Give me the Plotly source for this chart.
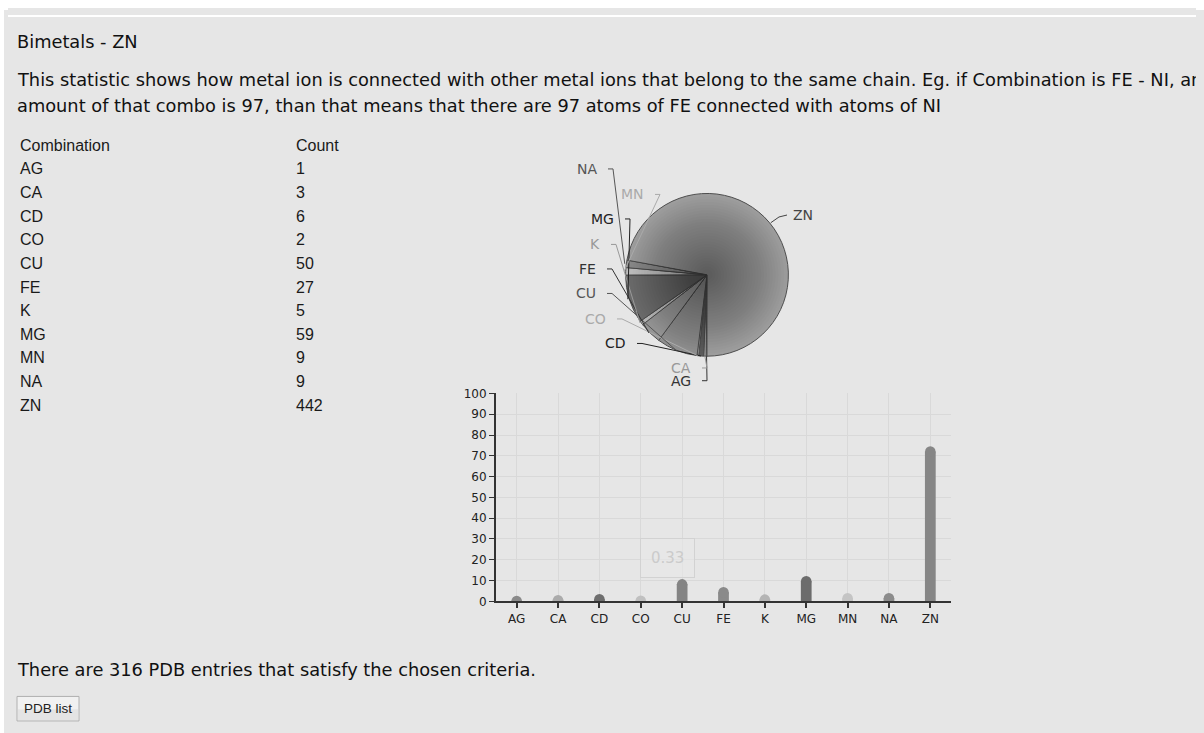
import math
import plotly.graph_objects as go

# ---------------- data ----------------
combinations = ["AG", "CA", "CD", "CO", "CU", "FE", "K", "MG", "MN", "NA", "ZN"]
counts = [1, 3, 6, 2, 50, 27, 5, 59, 9, 9, 442]
percentages = [0.16, 0.49, 0.98, 0.33, 8.16, 4.40, 0.82, 9.62, 1.47, 1.47, 72.10]
y_ticks = [0, 10, 20, 30, 40, 50, 60, 70, 80, 90, 100]
tooltip_category = "CO"
tooltip_text = "0.33"
pdb_entries = 316

# ---------------- styling ----------------
# page is 1204x733; the browser body keeps an 8px margin, so the figure is 1188x717 at (8, 8)
OFF = 8
W, H = 1204 - 2 * OFF, 733 - 2 * OFF
BG = "#e6e6e6"
pie_colors = ["#7c7c7c", "#a4a4a4", "#5e5e5e", "#b4b4b4", "#929292", "#9a9a9a",
              "#bcbcbc", "#6e6e6e", "#c4c4c4", "#8e8e8e", "#a0a0a0"]
bar_colors = ["#8a8a8a", "#ababab", "#6e6e6e", "#c0c0c0", "#848484", "#8a8a8a",
              "#b4b4b4", "#6c6c6c", "#c4c4c4", "#8c8c8c", "#868686"]
label_colors = ["#333333", "#999999", "#222222", "#aaaaaa", "#555555", "#333333",
                "#999999", "#222222", "#aaaaaa", "#555555", "#444444"]
# label anchor positions (page pixels): (x, y, side)  side: 'r' text ends at x, 'l' text starts at x
label_pos = {
    "AG": (692, 381, "r"), "CA": (692, 368, "r"), "CD": (627, 343, "r"),
    "CO": (607, 318, "r"), "CU": (597, 292, "r"), "FE": (597, 267, "r"),
    "K": (601, 242, "r"), "MG": (615, 216, "r"), "MN": (645, 191, "r"),
    "NA": (598, 165, "r"), "ZN": (792, 212, "l"),
}

PIE_CX, PIE_CY, PIE_R = 707, 273, 83


def px(x):
    return (x - OFF) / W


def py(y):
    return 1 - (y - OFF) / H


fig = go.Figure()

# pie
fig.add_trace(go.Pie(
    labels=combinations, values=counts, sort=False, direction="clockwise",
    rotation=180, textinfo="none", hoverinfo="label+value",
    marker=dict(colors=pie_colors, line=dict(color="#505050", width=1)),
    domain=dict(x=[px(PIE_CX - PIE_R), px(PIE_CX + PIE_R)],
                y=[py(PIE_CY + PIE_R), py(PIE_CY - PIE_R)]),
    showlegend=False,
))

# bar
fig.add_trace(go.Bar(
    x=combinations, y=percentages, width=0.26,
    marker=dict(color=bar_colors, line=dict(width=0)),
    showlegend=False, hoverinfo="x+y",
))
# rounded cylinder tops
fig.add_trace(go.Scatter(
    x=combinations, y=percentages, mode="markers",
    marker=dict(symbol="circle", size=10.5, color=bar_colors, line=dict(width=0)),
    showlegend=False, hoverinfo="skip",
))

shapes = []
annotations = []

# white strip at the top of the page (page y 8..10)
shapes.append(dict(type="rect", xref="paper", yref="paper", x0=0, x1=1, y0=py(10), y1=1,
                   fillcolor="white", line=dict(width=0), layer="below"))

# radial shading over pie
N_SHADE = 28
for i in range(N_SHADE):
    r = PIE_R * (1 - i / (N_SHADE + 1.0))
    shapes.append(dict(type="circle", xref="paper", yref="paper",
                       x0=px(PIE_CX - r), x1=px(PIE_CX + r),
                       y0=py(PIE_CY + r), y1=py(PIE_CY - r),
                       fillcolor="rgba(0,0,0,0.015)", line=dict(width=0), layer="above"))

# pie labels and connectors (edge point computed from data)
total = sum(counts)
cum = 0
for name, val, col in zip(combinations, counts, label_colors):
    mid = (cum + val / 2) / total * 360.0
    cum += val
    bearing = math.radians(180 + mid)
    ex = PIE_CX + PIE_R * math.sin(bearing)
    ey = PIE_CY - PIE_R * math.cos(bearing)
    lx, ly, side = label_pos[name]
    if side == "r":
        p1 = (lx + 10, ly)
        p2 = (lx + 15, ly)
        xanchor = "right"
    else:
        p1 = (lx - 5, ly)
        p2 = (lx - 13, ly + 2)
        xanchor = "left"
    path = "M {} {} L {} {} L {} {}".format(px(p1[0]), py(p1[1]), px(p2[0]), py(p2[1]),
                                          px(ex), py(ey))
    shapes.append(dict(type="path", xref="paper", yref="paper", path=path,
                       line=dict(color=col, width=1), layer="above"))
    annotations.append(dict(xref="paper", yref="paper", x=px(lx), y=py(ly), text=name,
                            showarrow=False, xanchor=xanchor, yanchor="middle",
                            font=dict(family="DejaVu Sans", size=14, color=col),
                            borderpad=0))

# page texts
TXT = dict(family="DejaVu Sans", size=17.8, color="#111111")
annotations.append(dict(xref="paper", yref="paper", x=px(15), y=py(35), text="Bimetals - ZN",
                        showarrow=False, xanchor="left", yanchor="middle", font=TXT))
annotations.append(dict(xref="paper", yref="paper", x=px(15), y=py(74),
                        text="This statistic shows how metal ion is connected with other metal ions that belong to the same chain. Eg. if Combination is FE - NI, and",
                        showarrow=False, xanchor="left", yanchor="middle", font=TXT))
annotations.append(dict(xref="paper", yref="paper", x=px(15), y=py(100),
                        text="amount of that combo is 97, than that means that there are 97 atoms of FE connected with atoms of NI",
                        showarrow=False, xanchor="left", yanchor="middle", font=TXT))
annotations.append(dict(xref="paper", yref="paper", x=px(15), y=py(676),
                        text="There are {} PDB entries that satisfy the chosen criteria.".format(pdb_entries),
                        showarrow=False, xanchor="left", yanchor="middle", font=TXT))

# table
TAB_FONT = dict(family="Liberation Sans", size=16, color="#1a1a1a")
annotations.append(dict(xref="paper", yref="paper", x=px(18), y=py(141), text="Combination",
                        showarrow=False, xanchor="left", yanchor="middle", font=TAB_FONT))
annotations.append(dict(xref="paper", yref="paper", x=px(294), y=py(141), text="Count",
                        showarrow=False, xanchor="left", yanchor="middle", font=TAB_FONT))
for i, (name, val) in enumerate(zip(combinations, counts)):
    yy = 165 + i * 24.1
    annotations.append(dict(xref="paper", yref="paper", x=px(18), y=py(yy), text=name,
                            showarrow=False, xanchor="left", yanchor="middle", font=TAB_FONT))
    annotations.append(dict(xref="paper", yref="paper", x=px(294), y=py(yy), text=str(val),
                            showarrow=False, xanchor="left", yanchor="middle", font=TAB_FONT))

# PDB list button
shapes.append(dict(type="rect", xref="paper", yref="paper", x0=px(17), x1=px(79),
                   y0=py(728), y1=py(703), fillcolor="#f1f1f1",
                   line=dict(color="#b0b0b0", width=1)))
shapes.append(dict(type="rect", xref="paper", yref="paper", x0=px(18), x1=px(78),
                   y0=py(727), y1=py(716), fillcolor="#e4e4e4",
                   line=dict(width=0)))
annotations.append(dict(xref="paper", yref="paper", x=px(48), y=py(715), text="PDB list",
                        showarrow=False, xanchor="center", yanchor="middle",
                        font=dict(family="Liberation Sans", size=13.5, color="#222222")))

# tooltip remnant
annotations.append(dict(xref="x", yref="y", x=tooltip_category, y=11, text=tooltip_text,
                        showarrow=False, xanchor="left", yanchor="bottom", xshift=-1,
                        font=dict(family="DejaVu Sans", size=15, color="#cbcbcb"),
                        bgcolor="rgba(232,232,232,0.6)", bordercolor="#d2d2d2",
                        borderwidth=1, borderpad=10))

AX_FONT = dict(family="DejaVu Sans", size=12, color="#222222")
fig.update_layout(
    width=W, height=H, margin=dict(l=0, r=0, t=0, b=0),
    paper_bgcolor=BG, plot_bgcolor=BG,
    shapes=shapes, annotations=annotations,
    xaxis=dict(domain=[px(496), px(951)], range=[-0.5, len(combinations) - 0.5],
               showgrid=True, gridcolor="#d9d9d9",
               showline=True, linecolor="#333333", linewidth=2,
               ticks="outside", ticklen=5, tickcolor="#333333", tickwidth=2,
               tickfont=AX_FONT, fixedrange=True),
    yaxis=dict(domain=[py(606), py(394)], range=[0, 100], tickvals=y_ticks,
               showgrid=True, gridcolor="#d9d9d9", zeroline=False,
               showline=True, linecolor="#333333", linewidth=2,
               ticks="outside", ticklen=5, tickcolor="#333333",
               tickfont=AX_FONT, fixedrange=True),
    hovermode="closest",
)

# page background: gray like the reference, with its white top (10px) and left (4px) strips
page_bg = ("document.body.style.background = "
           "'linear-gradient(#ffffff,#ffffff) left top / 100% 10px no-repeat, "
           "linear-gradient(#ffffff,#ffffff) left top / 4px 100% no-repeat, #e6e6e6';")
fig.write_html("out.html", post_script=page_bg, config={"displayModeBar": False})
